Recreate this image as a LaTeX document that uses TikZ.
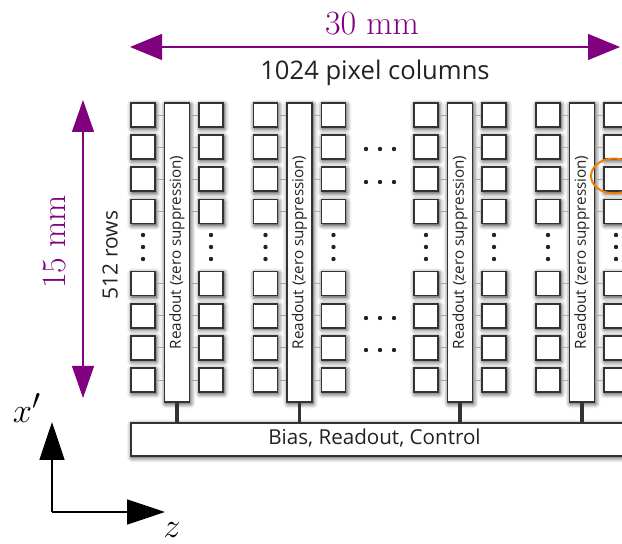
\documentclass[tikz,border=0pt]{standalone}
\usepackage{fontspec}
\setsansfont{Open Sans}
\usepackage{tikz}
\usetikzlibrary{arrows.meta,positioning,calc,shadows.blur}
\definecolor{dimcolor}{HTML}{800080}
\definecolor{markcolor}{HTML}{F07F0A}
\definecolor{edgecolor}{HTML}{333333}
\definecolor{inkcolor}{HTML}{222222}

\begin{document}
\begin{tikzpicture}[x=0.5pt, y=-0.5pt,
  pixel/.style={draw=edgecolor, fill=white, line width=0.9pt, minimum size=12pt, inner sep=0pt,
    blur shadow={shadow xshift=0.5pt, shadow yshift=-0.8pt, shadow blur radius=2.4pt, shadow opacity=85}},
  readout/.style={pixel, minimum width=12.5pt, minimum height=149.5pt},
  roText/.style={rotate=90, font=\fontsize{7.6}{9}\sffamily, text=inkcolor},
  wire/.style={draw=gray!70, line width=0.4pt},
  stem/.style={draw=edgecolor, line width=1.6pt},
  dimarr/.style={dimcolor, line width=0.6pt, {Triangle[length=16pt,width=13pt]}-{Triangle[length=16pt,width=13pt]}},
  dimvarr/.style={dimcolor, line width=0.6pt, {Triangle[length=16pt,width=11pt]}-{Triangle[length=16pt,width=11pt]}},
  axis/.style={black, line width=0.8pt, -{Triangle[length=19pt,width=12.5pt]}},
]
  \useasboundingbox (0,0) rectangle (622,544);
  \clip (0,0) rectangle (622,544);

  % bus at the bottom
  \node[pixel, anchor=north west, minimum width=260pt, minimum height=16.5pt] (bus) at (130,422) {};
  \node[font=\fontsize{10.3}{12}\sffamily, text=inkcolor] (busl) at (374.5,438.5) {Bias, Readout, Control};

  % pixel columns with their readout
  \foreach \g/\cx in {1/177, 2/299.5, 3/460, 4/582} {
    \node[readout] (ro\g) at (\cx,252.5) {};
    \node[roText] (rol\g) at (ro\g) {Readout (zero suppression)};
    \foreach \r/\cy in {1/115, 2/147.2, 3/179.4, 4/211.6, 5/283.5, 6/315.7, 7/347.9, 8/380.1} {
      \node[pixel] (pl\g\r) at (\cx-34,\cy) {};
      \node[pixel] (pr\g\r) at (\cx+34,\cy) {};
      \draw[wire] (pl\g\r.east) -- (pl\g\r.east -| ro\g.west);
      \draw[wire] (pr\g\r.west) -- (pr\g\r.west -| ro\g.east);
    }
    \foreach \s in {-34, 34}
      \foreach \dy in {235, 247, 259}
        \fill[inkcolor] (\cx+\s,\dy) circle (1.1pt);
    \draw[stem] (ro\g.south) -- (ro\g.south |- bus.north);
  }

  % skipped columns
  \foreach \cy in {149, 182, 318, 350}
    \foreach \dx in {366, 380, 394}
      \fill[inkcolor] (\dx,\cy) circle (1.1pt);

  % selected pixel
  \draw[markcolor, line width=1pt] (614,176) ellipse [x radius=11.5pt, y radius=8.75pt];

  % dimensions
  \coordinate (wl) at (130,47);
  \coordinate (wr) at (620,47);
  \draw[dimarr] (wl) -- (wr);
  \node[font=\fontsize{17}{20}\selectfont, text=dimcolor] (wlab) at (372,24) {30 mm};
  \node[font=\fontsize{12.8}{15}\sffamily, text=inkcolor] (cols) at (375,73) {1024 pixel columns};

  \coordinate (ht) at (83,100);
  \coordinate (hb) at (83,398);
  \draw[dimvarr] (ht) -- (hb);
  \node[rotate=90, font=\fontsize{17}{20}\selectfont, text=dimcolor] (hlab) at (55,242) {15 mm};
  \node[rotate=90, font=\fontsize{10.5}{12}\sffamily, text=inkcolor] (rows) at (110,255) {512 rows};

  % axes
  \coordinate (o) at (52,512);
  \coordinate (ax) at (52,422);
  \coordinate (az) at (165,512);
  \draw[axis] (o) -- (ax);
  \draw[axis] (o) -- (az);
  \node[font=\fontsize{19}{22}\selectfont] (xl) at (27,408) {$x'$};
  \node[font=\fontsize{19}{22}\selectfont] (zl) at (172,530) {$z$};
\end{tikzpicture}
\end{document}
